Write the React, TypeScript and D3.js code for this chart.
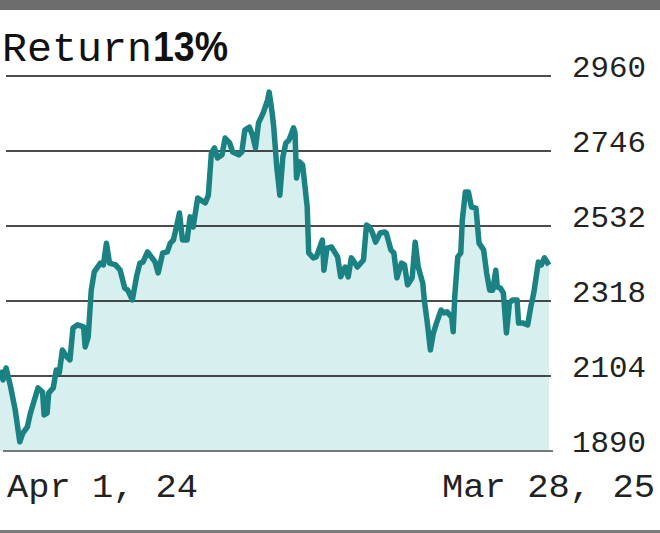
import * as d3 from "d3";

// days since Apr 1, 2024 and the index level
const days = [
  0, 2, 4, 7, 10, 13, 15, 18, 20, 22, 25, 28, 29, 31, 32, 35, 37, 39, 41, 44,
  46, 48, 51, 55, 56, 58, 60, 62, 66, 68, 70, 72, 76, 79, 82, 84, 87, 90, 92,
  94, 97, 100, 102, 104, 107, 110, 112, 114, 116, 118, 120, 123, 125, 127, 130,
  132, 135, 137, 139, 141, 143, 146, 148, 151, 153, 157, 159, 161, 164, 166,
  168, 170, 173, 176, 177, 179, 180, 182, 184, 186, 188, 190, 193, 194, 195,
  197, 199, 202, 203, 206, 208, 212, 213, 215, 218, 222, 224, 227, 229, 231,
  233, 235, 239, 241, 243, 245, 247, 250, 253, 254, 257, 259, 261, 264, 266,
  268, 271, 273, 275, 278, 279, 281, 283, 285, 287, 290, 292, 294, 297, 298,
  299, 301, 303, 304, 306, 308, 310, 313, 315, 318, 320, 322, 324, 326, 327,
  329, 331, 333, 335, 337, 340, 341, 344, 347, 349, 351, 354, 356, 358, 361,
];
const values = [
  2121, 2093, 2127, 2073, 2007, 1916, 1941, 1959, 1998, 2027, 2070, 2058, 1993,
  1998, 2055, 2070, 2121, 2113, 2178, 2158, 2150, 2241, 2250, 2244, 2187, 2215,
  2349, 2401, 2426, 2421, 2483, 2426, 2421, 2406, 2355, 2349, 2321, 2392, 2426,
  2429, 2458, 2441, 2429, 2398, 2455, 2458, 2483, 2492, 2529, 2569, 2492, 2492,
  2558, 2529, 2612, 2606, 2598, 2620, 2740, 2755, 2726, 2735, 2783, 2769, 2743,
  2735, 2743, 2806, 2814, 2792, 2755, 2826, 2854, 2892, 2914, 2854, 2814, 2700,
  2620, 2729, 2769, 2777, 2812, 2797, 2669, 2715, 2706, 2586, 2455, 2441, 2444,
  2492, 2406, 2469, 2472, 2444, 2387, 2415, 2387, 2441, 2429, 2415, 2435, 2535,
  2529, 2512, 2486, 2512, 2515, 2512, 2464, 2455, 2384, 2426, 2421, 2364, 2384,
  2486, 2415, 2369, 2321, 2255, 2178, 2227, 2255, 2292, 2284, 2287, 2272, 2230,
  2329, 2444, 2455, 2549, 2629, 2629, 2586, 2583, 2483, 2464, 2398, 2349, 2349,
  2406, 2358, 2355, 2341, 2227, 2312, 2321, 2321, 2255, 2255, 2250, 2301, 2341,
  2429, 2421, 2441, 2421,
];
const yTicks = [2960, 2746, 2532, 2318, 2104, 1890];
const xLabels = ["Apr 1, 24", "Mar 28, 25"];
const titleText = "Return";
const returnText = "13%";

const start = new Date(Date.UTC(2024, 3, 1));
const end = new Date(Date.UTC(2025, 2, 28));

const mono = "'Liberation Mono', 'Courier New', monospace";

export default function App() {
  const data = days.map((d, i) => ({
    date: d3.utcDay.offset(start, d),
    value: values[i],
  }));

  const x = d3.scaleUtc().domain([start, end]).range([0, 549]);
  const y = d3.scaleLinear().domain([1890, 2960]).range([451, 76]);

  const line = d3
    .line<(typeof data)[0]>()
    .x((d) => x(d.date))
    .y((d) => y(d.value));
  const area = d3
    .area<(typeof data)[0]>()
    .x((d) => x(d.date))
    .y0(y(1890))
    .y1((d) => y(d.value));

  return (
    <svg
      width={660}
      height={533}
      style={{ position: "fixed", left: 0, top: 0, background: "#fff" }}
    >
      <rect x={0} y={0} width={660} height={10} fill="#6d6d6d" />
      <rect x={0} y={530} width={660} height={3} fill="#7a7a7a" />

      <text x={2} y={61} fontFamily={mono} fontSize={40} fill="#111">
        <tspan textLength={150} lengthAdjust="spacingAndGlyphs">
          {titleText}
        </tspan>
      </text>
      <text
        x={153}
        y={61}
        fontFamily="'Liberation Sans', Arial, sans-serif"
        fontWeight="bold"
        fontSize={42}
        fill="#111"
        textLength={75}
        lengthAdjust="spacingAndGlyphs"
      >
        {returnText}
      </text>

      {/* area under the line */}
      <path d={area(data)!} fill="#d8efef" />

      {/* grid lines + labels */}
      {yTicks.map((t) => (
        <g key={t}>
          {t === 1890 ? (
            <line
              x1={3}
              x2={553}
              y1={y(t)}
              y2={y(t)}
              stroke="#777"
              strokeWidth={2}
            />
          ) : (
            <line
              x1={6}
              x2={551}
              y1={y(t)}
              y2={y(t)}
              stroke="#111"
              strokeWidth={1.6}
            />
          )}
          <text
            x={572}
            y={y(t) + 1}
            fontFamily={mono}
            fontSize={30}
            fill="#222"
            textLength={74}
            lengthAdjust="spacingAndGlyphs"
          >
            {t}
          </text>
        </g>
      ))}

      <path
        d={line(data)!}
        fill="none"
        stroke="#1a8282"
        strokeWidth={5.5}
        strokeLinejoin="round"
      />

      <text
        x={7}
        y={497}
        fontFamily={mono}
        fontSize={33}
        fill="#222"
        textLength={191}
        lengthAdjust="spacingAndGlyphs"
      >
        {xLabels[0]}
      </text>
      <text
        x={442}
        y={497}
        fontFamily={mono}
        fontSize={33}
        fill="#222"
        textLength={213}
        lengthAdjust="spacingAndGlyphs"
      >
        {xLabels[1]}
      </text>
    </svg>
  );
}
